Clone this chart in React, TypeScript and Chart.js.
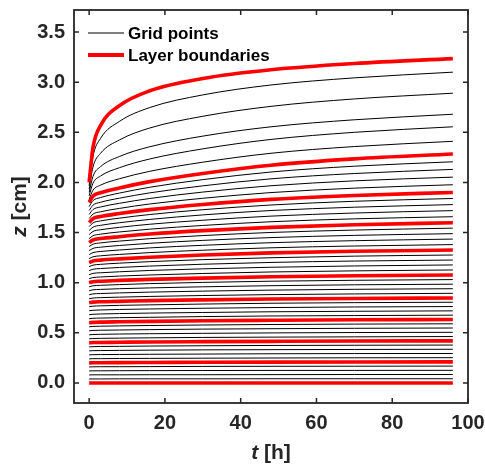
import React, { useEffect, useRef } from "react";
import { Chart, registerables } from "chart.js";
Chart.register(...registerables);

// time samples [h]
const times = [0, 1, 3, 8, 16, 30, 48, 70, 96];
const xTicks = [0, 20, 40, 60, 80, 100];
const yTicks = [0, 0.5, 1, 1.5, 2, 2.5, 3, 3.5];

// grid point positions z [cm] at each time (interior points of the layers)
const gridPoints: number[][] = [
  [0.04, 0.04, 0.04, 0.041, 0.041, 0.041, 0.042, 0.042, 0.042],
  [0.08, 0.081, 0.081, 0.081, 0.082, 0.082, 0.083, 0.084, 0.084],
  [0.12, 0.121, 0.121, 0.122, 0.123, 0.124, 0.125, 0.125, 0.126],
  [0.16, 0.161, 0.162, 0.162, 0.163, 0.165, 0.166, 0.167, 0.168],
  [0.24, 0.242, 0.242, 0.244, 0.245, 0.247, 0.249, 0.251, 0.252],
  [0.28, 0.282, 0.283, 0.284, 0.286, 0.288, 0.291, 0.293, 0.294],
  [0.32, 0.322, 0.323, 0.325, 0.327, 0.33, 0.332, 0.334, 0.336],
  [0.36, 0.362, 0.364, 0.365, 0.368, 0.371, 0.374, 0.376, 0.378],
  [0.44, 0.443, 0.445, 0.447, 0.45, 0.454, 0.457, 0.46, 0.463],
  [0.48, 0.483, 0.485, 0.488, 0.491, 0.495, 0.499, 0.503, 0.505],
  [0.52, 0.524, 0.526, 0.528, 0.532, 0.537, 0.541, 0.545, 0.548],
  [0.56, 0.564, 0.566, 0.569, 0.573, 0.578, 0.583, 0.587, 0.59],
  [0.64, 0.645, 0.647, 0.651, 0.655, 0.662, 0.668, 0.672, 0.676],
  [0.68, 0.685, 0.688, 0.692, 0.697, 0.703, 0.71, 0.715, 0.719],
  [0.72, 0.725, 0.728, 0.733, 0.738, 0.745, 0.752, 0.758, 0.762],
  [0.76, 0.766, 0.769, 0.774, 0.779, 0.787, 0.795, 0.801, 0.805],
  [0.84, 0.847, 0.851, 0.856, 0.863, 0.872, 0.881, 0.888, 0.894],
  [0.88, 0.888, 0.892, 0.898, 0.906, 0.916, 0.926, 0.934, 0.94],
  [0.92, 0.929, 0.933, 0.94, 0.948, 0.959, 0.97, 0.979, 0.985],
  [0.96, 0.969, 0.974, 0.981, 0.991, 1.003, 1.015, 1.024, 1.031],
  [1.04, 1.051, 1.057, 1.066, 1.077, 1.092, 1.107, 1.118, 1.127],
  [1.08, 1.093, 1.099, 1.109, 1.122, 1.138, 1.154, 1.167, 1.177],
  [1.12, 1.134, 1.141, 1.152, 1.166, 1.184, 1.202, 1.216, 1.226],
  [1.16, 1.175, 1.183, 1.195, 1.21, 1.23, 1.249, 1.265, 1.276],
  [1.24, 1.258, 1.268, 1.282, 1.3, 1.324, 1.348, 1.366, 1.38],
  [1.28, 1.3, 1.311, 1.326, 1.347, 1.373, 1.399, 1.419, 1.435],
  [1.32, 1.342, 1.354, 1.371, 1.393, 1.422, 1.45, 1.472, 1.489],
  [1.36, 1.384, 1.397, 1.415, 1.439, 1.47, 1.501, 1.525, 1.544],
  [1.44, 1.468, 1.484, 1.506, 1.534, 1.571, 1.608, 1.637, 1.658],
  [1.48, 1.511, 1.528, 1.552, 1.583, 1.623, 1.664, 1.695, 1.719],
  [1.52, 1.554, 1.572, 1.598, 1.631, 1.676, 1.72, 1.753, 1.779],
  [1.56, 1.596, 1.616, 1.644, 1.68, 1.728, 1.775, 1.812, 1.84],
  [1.64, 1.684, 1.707, 1.741, 1.785, 1.842, 1.899, 1.943, 1.977],
  [1.68, 1.729, 1.755, 1.792, 1.84, 1.904, 1.967, 2.016, 2.053],
  [1.72, 1.773, 1.802, 1.843, 1.896, 1.966, 2.036, 2.089, 2.13],
  [1.76, 1.818, 1.849, 1.894, 1.952, 2.028, 2.104, 2.162, 2.206],
  [1.833, 1.922, 1.973, 2.037, 2.111, 2.202, 2.291, 2.358, 2.41],
  [1.867, 1.991, 2.064, 2.147, 2.234, 2.335, 2.429, 2.5, 2.555],
  [1.9, 2.06, 2.157, 2.259, 2.356, 2.462, 2.555, 2.625, 2.68],
  [1.933, 2.153, 2.29, 2.424, 2.543, 2.66, 2.759, 2.833, 2.89],
  [1.967, 2.256, 2.439, 2.609, 2.747, 2.873, 2.972, 3.043, 3.1],
];

// layer boundary positions z [cm] at each time
const layerBoundaries: number[][] = [
  [0, 0, 0, 0, 0, 0, 0, 0, 0],
  [0.2, 0.201, 0.202, 0.203, 0.204, 0.206, 0.208, 0.209, 0.21],
  [0.4, 0.403, 0.404, 0.406, 0.409, 0.412, 0.415, 0.418, 0.42],
  [0.6, 0.604, 0.607, 0.61, 0.614, 0.62, 0.625, 0.63, 0.633],
  [0.8, 0.806, 0.81, 0.814, 0.821, 0.829, 0.837, 0.843, 0.848],
  [1.0, 1.01, 1.015, 1.023, 1.033, 1.046, 1.059, 1.069, 1.077],
  [1.2, 1.216, 1.225, 1.238, 1.254, 1.276, 1.297, 1.313, 1.326],
  [1.4, 1.426, 1.44, 1.459, 1.485, 1.519, 1.552, 1.578, 1.598],
  [1.6, 1.639, 1.66, 1.69, 1.729, 1.78, 1.831, 1.87, 1.9],
  [1.8, 1.863, 1.897, 1.945, 2.008, 2.09, 2.172, 2.235, 2.283],
  [2.0, 2.346, 2.568, 2.766, 2.914, 3.037, 3.124, 3.186, 3.235],
];

const legendLabels = ["Grid points", "Layer boundaries"];
const TXT = "#262626";
const FONT = "'Liberation Sans', Arial, Helvetica, sans-serif";

const decorPlugin = {
  id: "decor",
  afterDatasetsDraw(chart: any) {
    const { ctx, chartArea: a, scales } = chart;
    ctx.save();
    // frame
    ctx.strokeStyle = TXT;
    ctx.lineWidth = 1.8;
    ctx.strokeRect(a.left, a.top, a.right - a.left, a.bottom - a.top);
    const tl = 5;
    ctx.lineWidth = 1.5;
    ctx.beginPath();
    xTicks.forEach((v) => {
      const x = scales.x.getPixelForValue(v);
      ctx.moveTo(x, a.bottom);
      ctx.lineTo(x, a.bottom - tl);
      ctx.moveTo(x, a.top);
      ctx.lineTo(x, a.top + tl);
    });
    yTicks.forEach((v) => {
      const y = scales.y.getPixelForValue(v);
      ctx.moveTo(a.left, y);
      ctx.lineTo(a.left + tl, y);
      ctx.moveTo(a.right, y);
      ctx.lineTo(a.right - tl, y);
    });
    ctx.stroke();

    // legend
    const lx0 = a.left + 14;
    const lx1 = a.left + 50;
    const rows = [
      { y: a.top + 23, color: "#000000", w: 1.2, label: legendLabels[0] },
      { y: a.top + 45, color: "#ff0000", w: 4, label: legendLabels[1] },
    ];
    ctx.font = `bold 17px ${FONT}`;
    ctx.textBaseline = "middle";
    ctx.textAlign = "left";
    rows.forEach((r) => {
      ctx.strokeStyle = r.color;
      ctx.lineWidth = r.w;
      ctx.beginPath();
      ctx.moveTo(lx0, r.y);
      ctx.lineTo(lx1, r.y);
      ctx.stroke();
      ctx.fillStyle = "#000000";
      ctx.fillText(r.label, lx1 + 4, r.y + 1);
    });

    // axis titles
    const drawTitle = (italic: string, rest: string, cx: number, cy: number, rot: number) => {
      ctx.save();
      ctx.translate(cx, cy);
      ctx.rotate(rot);
      ctx.fillStyle = TXT;
      ctx.textBaseline = "middle";
      ctx.textAlign = "left";
      ctx.font = `italic bold 21px ${FONT}`;
      const w1 = ctx.measureText(italic).width;
      ctx.font = `bold 21px ${FONT}`;
      const w2 = ctx.measureText(rest).width;
      const start = -(w1 + w2) / 2;
      ctx.font = `italic bold 21px ${FONT}`;
      ctx.fillText(italic, start, 0);
      ctx.font = `bold 21px ${FONT}`;
      ctx.fillText(rest, start + w1, 0);
      ctx.restore();
    };
    drawTitle("t", " [h]", (a.left + a.right) / 2, 453, 0);
    drawTitle("z", " [cm]", 20, (a.top + a.bottom) / 2, -Math.PI / 2);
    ctx.restore();
  },
};

export default function App() {
  const ref = useRef<HTMLCanvasElement | null>(null);
  useEffect(() => {
    if (!ref.current) return;
    const mk = (rows: number[][], color: string, width: number, order: number, name: string) =>
      rows.map((row) => ({
        label: name,
        data: times.map((t, i) => ({ x: t, y: row[i] })),
        borderColor: color,
        backgroundColor: color,
        borderWidth: width,
        pointRadius: 0,
        cubicInterpolationMode: "monotone" as const,
        fill: false,
        order,
      }));
    const datasets = [
      ...mk(gridPoints, "#000000", 1, 1, legendLabels[0]),
      ...mk(layerBoundaries, "#ff0000", 3.6, 0, legendLabels[1]),
    ];
    const tickFont = { family: FONT, size: 20, weight: "bold" as const };
    const chart = new Chart(ref.current, {
      type: "line",
      data: { datasets },
      options: {
        responsive: false,
        animation: false,
        layout: { padding: { left: 0, right: 17, top: 10, bottom: 0 } },
        plugins: { legend: { display: false }, tooltip: { enabled: false } },
        scales: {
          x: {
            type: "linear",
            min: -4,
            max: 100,
            afterBuildTicks: (s: any) => {
              s.ticks = xTicks.map((v) => ({ value: v }));
            },
            afterFit: (s: any) => {
              s.height = 66;
              s.paddingLeft = 0;
              s.paddingRight = 0;
            },
            ticks: {
              font: tickFont,
              color: TXT,
              padding: 8,
              maxRotation: 0,
              autoSkip: false,
              callback: (v: any) => String(v),
            },
            grid: { display: false, drawTicks: false },
            border: { display: false },
          },
          y: {
            type: "linear",
            min: -0.2,
            max: 3.72,
            afterBuildTicks: (s: any) => {
              s.ticks = yTicks.map((v) => ({ value: v }));
            },
            afterFit: (s: any) => {
              s.width = 74;
              s.paddingTop = 0;
              s.paddingBottom = 0;
            },
            ticks: {
              font: tickFont,
              color: TXT,
              padding: 9,
              autoSkip: false,
              callback: (v: any) => Number(v).toFixed(1),
            },
            grid: { display: false, drawTicks: false },
            border: { display: false },
          },
        },
      },
      plugins: [decorPlugin],
    });
    return () => chart.destroy();
  }, []);
  return (
    <div style={{ position: "fixed", left: 0, top: 0, width: 485, height: 469, background: "#fff" }}>
      <canvas ref={ref} width={485} height={469} style={{ display: "block" }} />
    </div>
  );
}
